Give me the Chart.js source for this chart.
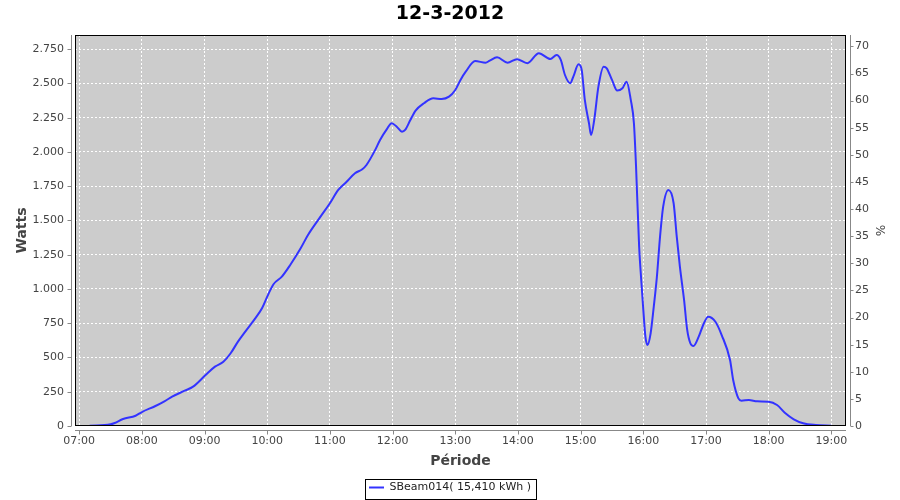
<!DOCTYPE html>
<html><head><meta charset="utf-8">
<script src="https://cdn.jsdelivr.net/npm/chart.js@4.4.0/dist/chart.umd.min.js"></script>
<style>html,body{margin:0;padding:0;background:#fff}#wrap{width:900px;height:500px}</style>
</head><body><div id="wrap"><canvas id="c" width="900" height="500"></canvas></div>
<script>
const chartTitle = '12-3-2012';
const seriesName = 'SBeam014( 15,410 kWh )';
const xAxisTitle = 'Période';
const yAxisTitle = 'Watts';
const y2AxisTitle = '%';

const times = ['07:10','07:30','07:34','07:42','07:54','08:00','08:13','08:22','08:29','08:41','08:49',
  '09:01','09:10','09:18','09:25','09:32','09:39','09:48','09:55','10:00','10:06','10:14','10:22','10:32',
  '10:39','10:51','11:00','11:08','11:16','11:24','11:31','11:35','11:43','11:48','11:55','11:59','12:04',
  '12:09','12:12','12:17','12:22','12:30','12:39','12:47','12:54','13:00','13:05','13:10','13:19','13:29',
  '13:33','13:40','13:50','13:59','14:09','14:20','14:31','14:37','14:41','14:45','14:50','14:53','14:58',
  '15:01','15:04','15:08','15:10','15:13','15:17','15:22','15:25','15:30','15:35','15:40','15:44','15:48',
  '15:51','15:53','15:56','15:58','16:00','16:02','16:04','16:07','16:10','16:13','16:16','16:19','16:24',
  '16:29','16:32','16:35','16:39','16:42','16:45','16:48','16:53','16:58','17:02','17:09','17:15','17:23',
  '17:26','17:31','17:34','17:41','17:49','18:00','18:08','18:16','18:24','18:33','18:45','19:00'];
const watts = [2,12,22,51,75,102,146,182,214,258,287,
  372,433,469,531,616,689,780,859,944,1035,1090,1175,1297,
  1394,1528,1626,1723,1783,1845,1874,1905,2010,2088,2173,2210,2185,
  2148,2161,2234,2302,2356,2392,2387,2404,2453,2526,2586,2664,2652,
  2667,2691,2652,2677,2648,2721,2679,2708,2672,2562,2502,2550,2640,
  2599,2380,2210,2124,2234,2477,2623,2611,2526,2448,2465,2513,2380,
  2210,1900,1309,1066,847,652,591,677,871,1090,1382,1601,1723,
  1626,1382,1163,920,701,604,584,652,750,798,761,664,482,
  336,202,185,190,180,177,153,93,49,20,7,2];

const xMin = '06:56', xMax = '19:14';
const yMax = 2854, yStep = 250;
const y2Max = 72.1, y2Step = 5;

function toMin(s){const p=s.split(':').map(Number);return p[0]*60+p[1];}
function fmtTime(v){const h=Math.floor(v/60),m=Math.round(v-h*60);return String(h).padStart(2,'0')+':'+String(m).padStart(2,'0');}
function fmtThousands(v){return String(v).replace(/\B(?=(\d{3})+(?!\d))/g,'.');}

const points = times.map((t,i)=>({x:toMin(t), y:watts[i]}));
const FONT = "'DejaVu Sans', sans-serif";
const tickColor = '#444';
const axisLineColor = '#888';

const plotDeco = {
  id:'plotDeco',
  beforeDraw(chart){
    const {ctx, chartArea:a} = chart;
    ctx.save();
    ctx.fillStyle = '#cccccc';
    ctx.fillRect(a.left, a.top, a.right-a.left, a.bottom-a.top);
    ctx.restore();
  },
  afterDraw(chart){
    const {ctx, chartArea:a, scales} = chart;
    ctx.save();
    ctx.strokeStyle = '#000';
    ctx.lineWidth = 1;
    ctx.strokeRect(Math.round(a.left)+0.5, Math.round(a.top)+0.5, Math.round(a.right-a.left)-1, Math.round(a.bottom-a.top)-1);
    ctx.strokeStyle = axisLineColor;
    ctx.beginPath();
    const lx = Math.round(a.left)-4+0.5;
    ctx.moveTo(lx, a.top); ctx.lineTo(lx, a.bottom);
    scales.y.ticks.forEach(t=>{const py=Math.round(scales.y.getPixelForValue(t.value))+0.5; ctx.moveTo(lx-4,py); ctx.lineTo(lx,py);});
    const by = Math.round(a.bottom)+4+0.5;
    ctx.moveTo(a.left, by); ctx.lineTo(a.right, by);
    scales.x.ticks.forEach(t=>{const px=Math.round(scales.x.getPixelForValue(t.value))+0.5; ctx.moveTo(px,by); ctx.lineTo(px,by+4);});
    const rx = Math.round(a.right)+4+0.5;
    ctx.moveTo(rx, a.top); ctx.lineTo(rx, a.bottom);
    scales.y2.ticks.forEach(t=>{const py=Math.round(scales.y2.getPixelForValue(t.value))+0.5; ctx.moveTo(rx,py); ctx.lineTo(rx+3,py);});
    ctx.stroke();
    const hb = chart.legend && chart.legend.legendHitBoxes && chart.legend.legendHitBoxes[0];
    if (hb){
      const cy = hb.top + hb.height/2;
      ctx.strokeStyle = '#000';
      ctx.strokeRect(Math.round(hb.left)-3.5, Math.round(cy-10)+1.5, Math.round(hb.width)+9, 20);
    }
    ctx.restore();
  }
};

new Chart(document.getElementById('c'), {
  type:'line',
  data:{datasets:[{
    label: seriesName,
    data: points,
    borderColor:'#3333ff',
    backgroundColor:'#3333ff',
    borderWidth:2,
    pointRadius:0,
    cubicInterpolationMode:'monotone',
    fill:false,
    yAxisID:'y'
  }]},
  options:{
    responsive:false,
    devicePixelRatio:1,
    animation:false,
    layout:{padding:{left:0,right:0,top:0,bottom:0}},
    plugins:{
      title:{display:true,text:chartTitle,color:'#000',font:{family:FONT,size:19,weight:'bold',lineHeight:1.2},padding:{top:3,bottom:9.2}},
      legend:{display:true,position:'bottom',maxHeight:23,
        labels:{color:'#222',font:{family:FONT,size:11},usePointStyle:true,pointStyle:'line',pointStyleWidth:15,padding:5}},
      tooltip:{enabled:false}
    },
    scales:{
      x:{type:'linear',min:toMin(xMin),max:toMin(xMax),
        afterFit(s){s.height=51;},
        border:{display:false,dash:[2,2]},
        grid:{color:'#ffffff',drawTicks:false,lineWidth:1},
        ticks:{stepSize:60,includeBounds:false,color:tickColor,padding:9,maxRotation:0,autoSkip:false,font:{family:FONT,size:11},callback:v=>fmtTime(v)},
        title:{display:true,text:xAxisTitle,color:'#444',font:{family:FONT,size:14,weight:'bold',lineHeight:1.2},padding:{top:0,bottom:7.6}}
      },
      y:{type:'linear',position:'left',min:0,max:yMax,
        afterFit(s){s.width=75;},
        border:{display:false,dash:[2,2]},
        grid:{color:'#ffffff',drawTicks:false,lineWidth:1},
        ticks:{stepSize:yStep,includeBounds:false,color:tickColor,padding:11,font:{family:FONT,size:11},callback:v=>fmtThousands(v)},
        title:{display:true,text:yAxisTitle,color:'#444',font:{family:FONT,size:14,weight:'bold',lineHeight:1.2},padding:{top:13.6,bottom:0}}
      },
      y2:{type:'linear',position:'right',min:0,max:y2Max,
        afterFit(s){s.width=54;},
        border:{display:false},
        grid:{drawOnChartArea:false,drawTicks:false},
        ticks:{stepSize:y2Step,includeBounds:false,color:tickColor,padding:9,font:{family:FONT,size:11}},
        title:{display:true,text:y2AxisTitle,color:'#444',font:{family:FONT,size:12,lineHeight:1.2},padding:{top:14,bottom:0}}
      }
    }
  },
  plugins:[plotDeco]
});
</script></body></html>
